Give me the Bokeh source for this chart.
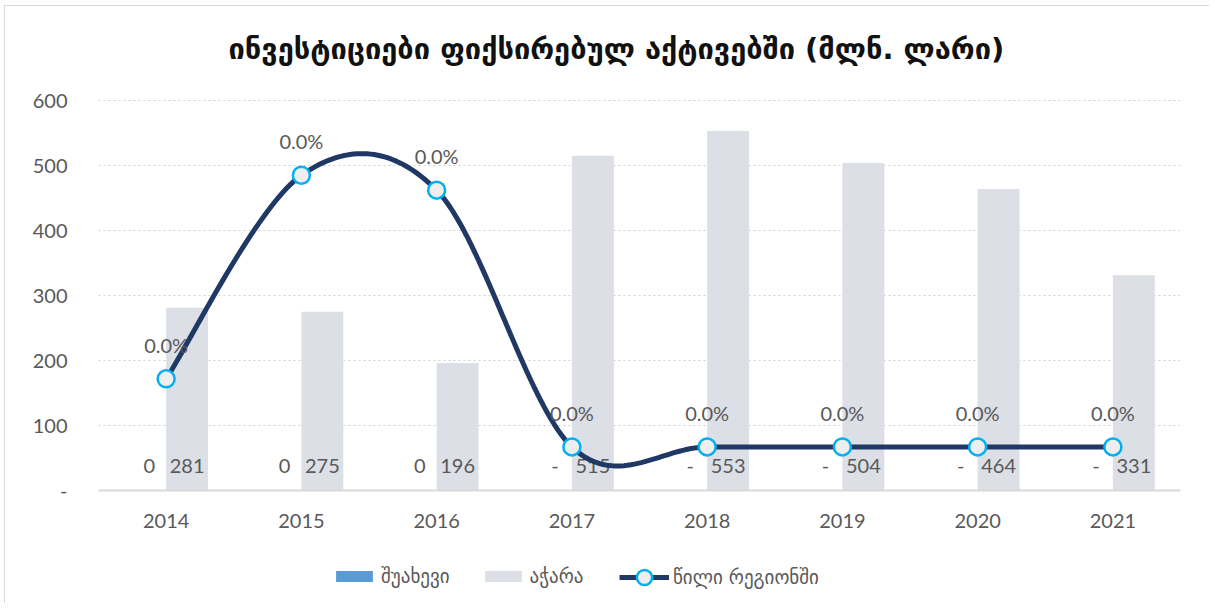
import numpy as np
from bokeh.plotting import figure
from bokeh.models import (ColumnDataSource, FactorRange, Range1d, FixedTicker,
                          Legend, LegendItem, Span, Label)
from bokeh.transform import dodge
from bokeh.core.properties import value
from bokeh.embed import file_html
from bokeh.resources import INLINE

# ---------------- data ----------------
years = ["2014", "2015", "2016", "2017", "2018", "2019", "2020", "2021"]
shuakhevi = [0.0205, 0.08, 0.054, 0, 0, 0, 0, 0]          # მლნ. ლარი
ajara = [281, 275, 196, 515, 553, 504, 464, 331]           # მლნ. ლარი
share_pct = [0.0073, 0.0291, 0.0275, 0, 0, 0, 0, 0]        # %
y_ticks = [0, 100, 200, 300, 400, 500, 600]

TITLE = "ინვესტიციები ფიქსირებულ აქტივებში (მლნ. ლარი)"
NAMES = ["შუახევი", "აჭარა", "წილი რეგიონში"]

TXT = "#595959"
NUM_FONT = "Lato"
GEO_FONT = "DejaVu Sans"
NUM_SIZE = "20px"


def acc(v):
    return "-" if v == 0 else f"{v:,.0f}"


src = ColumnDataSource(dict(
    year=years,
    shua=shuakhevi,
    ajara=ajara,
    share=share_pct,
    shua_lbl=[acc(v) for v in shuakhevi],
    ajara_lbl=[acc(v) for v in ajara],
    share_lbl=[f"{v:.1f}%" for v in share_pct],
))

# smoothed line (Catmull-Rom through the points, synthetic categorical coords)
px = np.arange(len(years)) + 0.5
py = np.array(share_pct, dtype=float)
P = np.vstack([px, py]).T
ext = np.vstack([P[0], P, P[-1]])
sx, sy = [], []
for i in range(len(P) - 1):
    p0, p1, p2, p3 = ext[i], ext[i + 1], ext[i + 2], ext[i + 3]
    m1 = (p2 - p0) / 2.0
    m2 = (p3 - p1) / 2.0
    t = np.linspace(0, 1, 40)[:, None]
    h00 = 2 * t**3 - 3 * t**2 + 1
    h10 = t**3 - 2 * t**2 + t
    h01 = -2 * t**3 + 3 * t**2
    h11 = t**3 - t**2
    seg = h00 * p1 + h10 * m1 + h01 * p2 + h11 * m2
    if i > 0:
        seg = seg[1:]
    sx.extend(seg[:, 0])
    sy.extend(seg[:, 1])

# ---------------- figure ----------------
# the frame covers the whole height so that title and legend can live in it
p = figure(
    x_range=FactorRange(*years, range_padding=0),
    y_range=Range1d(-169.23, 744.62),
    width=1205, height=598, title=None,
    output_backend="svg", toolbar_location=None,
    min_border_left=93, min_border_right=30,
    min_border_top=0, min_border_bottom=4,
    background_fill_color="white", border_fill_color="white",
)
p.styles = {"border-left": "1px solid #d9d9d9", "border-top": "1px solid #d9d9d9",
            "margin-left": "4px", "margin-top": "5px"}
p.outline_line_color = None

p.extra_y_ranges = {"share": Range1d(-0.016446, 0.047174)}

p.add_layout(Label(x=130, y=552, x_units="screen", y_units="screen", text=TITLE,
                   text_align="left", text_baseline="middle",
                   text_font=GEO_FONT, text_font_size="29px",
                   text_font_style="bold", text_color="#111111"))

# axes
p.yaxis.ticker = FixedTicker(ticks=y_ticks)
p.yaxis.major_label_overrides = {0: "-"}
p.yaxis.axis_line_color = None
p.yaxis.major_tick_line_color = None
p.yaxis.minor_tick_line_color = None
p.yaxis.major_label_standoff = 25
p.yaxis.major_label_text_font = NUM_FONT
p.yaxis.major_label_text_font_size = NUM_SIZE
p.yaxis.major_label_text_color = TXT

p.xaxis.visible = False
p.xgrid.grid_line_color = None
p.ygrid.grid_line_color = "#d0d0d0"
p.ygrid.grid_line_dash = "2 3"
p.ygrid.grid_line_width = 1

# category axis line at zero and category labels
p.add_layout(Span(location=0, dimension="width", line_color="#d9d9d9", line_width=2))
p.text(x="year", y=0, text="year", source=src, y_offset=30,
       text_align="center", text_baseline="middle",
       text_font=value(NUM_FONT), text_font_size=NUM_SIZE, text_color=TXT)

# bars
W = 0.31
b1 = p.vbar(x=dodge("year", -W / 2, range=p.x_range), top="shua", width=W,
            source=src, fill_color="#5b9bd5", line_color=None)
b2 = p.vbar(x=dodge("year", W / 2, range=p.x_range), top="ajara", width=W,
            source=src, fill_color="#dcdfe6", line_color=None)

# bar labels (inside base)
for col, off in (("shua_lbl", -W / 2 + 0.03), ("ajara_lbl", W / 2)):
    p.text(x=dodge("year", off, range=p.x_range), y=0, text=col, source=src,
           y_offset=-25, text_align="center", text_baseline="middle",
           text_font=value(NUM_FONT), text_font_size=NUM_SIZE, text_color=TXT)

# share line
ln = p.line(sx, sy, y_range_name="share", line_color="#1f3864", line_width=5)
sc = p.scatter(x="year", y="share", source=src, y_range_name="share", size=17,
               fill_color="#eeeeee", line_color="#00b0f0", line_width=2.5)
p.text(x="year", y="share", text="share_lbl", source=src, y_range_name="share",
       y_offset=-34, text_align="center", text_baseline="middle",
       text_font=value(NUM_FONT), text_font_size=NUM_SIZE, text_color=TXT)


def style_legend(lg, gh):
    lg.label_text_font = GEO_FONT
    lg.label_text_font_size = "19px"
    lg.label_text_color = TXT
    lg.glyph_width = 46
    lg.glyph_height = gh
    lg.label_standoff = 4
    lg.spacing = 30
    lg.padding = 0
    lg.margin = 0
    lg.border_line_color = None
    lg.background_fill_alpha = 0


leg1 = Legend(items=[
    LegendItem(label=NAMES[0], renderers=[b1]),
    LegendItem(label=NAMES[1], renderers=[b2]),
], orientation="horizontal", location=(233, 13))
style_legend(leg1, 14)
leg2 = Legend(items=[
    LegendItem(label=NAMES[2], renderers=[ln, sc]),
], orientation="horizontal", location=(521, 4))
style_legend(leg2, 38)
leg2.glyph_width = 50
p.add_layout(leg1, "center")
p.add_layout(leg2, "center")

open("out.html", "w").write(file_html(p, INLINE))
